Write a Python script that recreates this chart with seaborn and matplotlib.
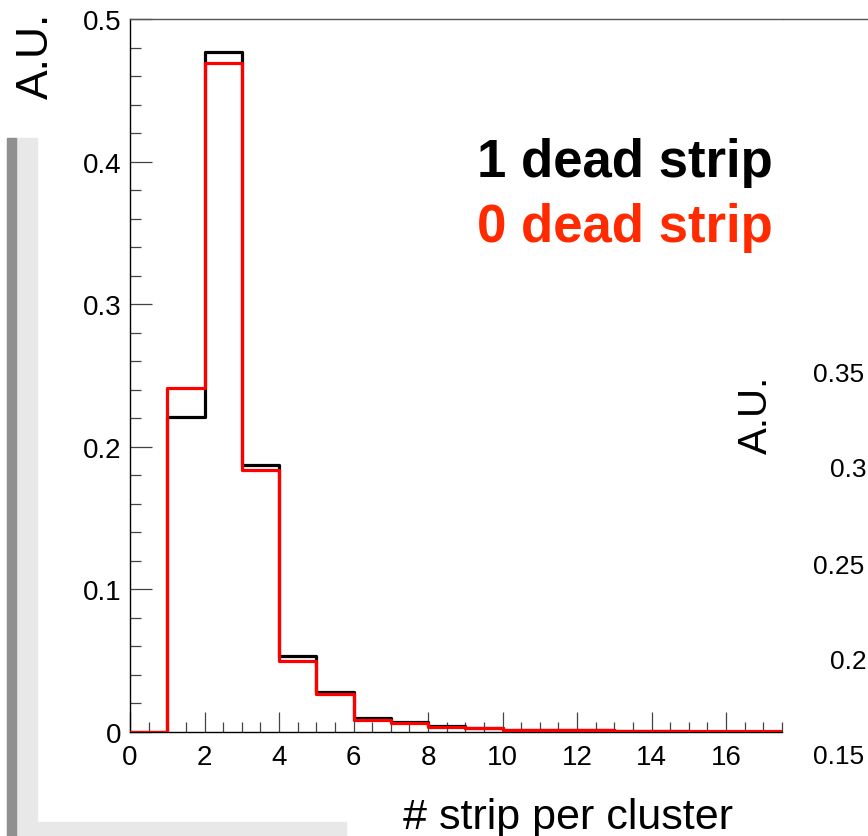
"""
Cluster size distribution: strips per cluster with 1 and 0 dead strips (ROOT-style histogram).
"""

import numpy as np
import pandas as pd
import matplotlib
matplotlib.use("Agg")
import matplotlib.pyplot as plt
from matplotlib.lines import Line2D
from matplotlib.patches import Rectangle
from matplotlib.ticker import MultipleLocator
import seaborn as sns

# Bin edges 0..18, one bin per strip count
bin_edges = list(range(0, 19))
bin_centers = np.arange(0, 18) + 0.5

# Normalised content (A.U.)
one_dead = [0, 0.221, 0.477, 0.187, 0.053, 0.028, 0.0098, 0.0068, 0.0042,
            0.0027, 0.0017, 0.0015, 0.0013, 0.0006, 0.0004, 0.0003, 0.0002, 0.0002]
zero_dead = [0, 0.241, 0.469, 0.184, 0.050, 0.0266, 0.0084, 0.0063, 0.0037,
             0.0025, 0.0016, 0.0014, 0.0012, 0.0005, 0.0004, 0.0004, 0.0004, 0.0004]

labels = ["1 dead strip", "0 dead strip"]
line_colors = ["black", "#ff0000"]
text_colors = ["black", "#ff2a00"]

x_ticks = np.arange(0, 17, 2)
y_ticks = [0, 0.1, 0.2, 0.3, 0.4, 0.5]

# Tick labels of the neighbouring (cut-off) plot on the right
right_ticks = ["0.35", "0.3", "0.25", "0.2", "0.15"]

df = pd.DataFrame({
    "nstrip": np.concatenate([bin_centers, bin_centers]),
    "weight": np.concatenate([one_dead, zero_dead]),
    "config": [labels[0]] * len(bin_centers) + [labels[1]] * len(bin_centers),
})

sns.set_style("white")
plt.rcParams["font.family"] = ["Liberation Sans", "DejaVu Sans"]
plt.rcParams["text.color"] = "black"

W, H = 868, 837
fig = plt.figure(figsize=(W / 100, H / 100), dpi=100)


def fx(px):
    return px / W


def fy(py):
    return 1 - py / H


# Slide decorations behind the plot
fig.patches.append(Rectangle((fx(7), 0), fx(30), fy(139), transform=fig.transFigure,
                             color="#e8e8e8", zorder=0))
fig.patches.append(Rectangle((fx(37), 0), fx(309), 14 / H, transform=fig.transFigure,
                             color="#e8e8e8", zorder=0))
fig.patches.append(Rectangle((fx(7), 0), fx(9), fy(139), transform=fig.transFigure,
                             color="#909090", zorder=0))

ax = fig.add_axes([fx(130), fy(733), fx(782) - fx(130), fy(20) - fy(733)])
ax.set_facecolor("none")

for lab, col, z in zip(labels, line_colors, [3, 4]):
    sub = df[df["config"] == lab]
    sns.histplot(data=sub, x="nstrip", weights="weight",
                 bins=bin_edges, element="step", fill=False, color=col,
                 linewidth=2.3, zorder=z, ax=ax)

ax.set_xlim(0, 17.5)
ax.set_ylim(0, 0.5)
ax.set_xticks(x_ticks)
ax.set_yticks(y_ticks)
ax.set_yticklabels(["0", "0.1", "0.2", "0.3", "0.4", "0.5"])
ax.xaxis.set_minor_locator(MultipleLocator(0.5))
ax.yaxis.set_minor_locator(MultipleLocator(0.02))
ax.tick_params(axis="both", which="both", direction="in", color="#444444",
               width=0.9, labelsize=20, labelcolor="black",
               bottom=True, left=True, top=False, right=False)
ax.tick_params(axis="y", which="major", length=16, pad=6)
ax.tick_params(axis="y", which="minor", length=8)
ax.tick_params(axis="x", which="major", length=14.5, pad=9)
ax.tick_params(axis="x", which="minor", length=7.2)
ax.set_xlabel("")
ax.set_ylabel("")

ax.spines["right"].set_visible(False)
ax.spines["top"].set_color("#555555")
for side in ["left", "bottom"]:
    ax.spines[side].set_color("black")
for sp in ax.spines.values():
    sp.set_linewidth(1.0)

# top frame line continues to the right edge
fig.add_artist(Line2D([fx(782), 1.0], [fy(20), fy(20)], transform=fig.transFigure,
                      color="#555555", linewidth=1.0))

# axis titles
fig.text(fx(733), fy(829), "# strip per cluster", fontsize=31, ha="right", va="baseline")
fig.text(fx(36), fy(56), "A.U.", fontsize=32, rotation=90, ha="center", va="center")

# legend-like text
fig.text(fx(773), fy(177), labels[0], fontsize=38, fontweight="bold",
         color=text_colors[0], ha="right", va="baseline")
fig.text(fx(773), fy(242), labels[1], fontsize=38, fontweight="bold",
         color=text_colors[1], ha="right", va="baseline")

# pieces of the neighbouring plot
fig.text(fx(756), fy(415), "A.U.", fontsize=29, rotation=90, ha="center", va="center")
right_y = [375, 470, 567, 662, 757]
right_x = [813, 830, 813, 830, 813]
for t, yy, xx in zip(right_ticks, right_y, right_x):
    fig.text(fx(xx), fy(yy), t, fontsize=19, ha="left", va="center")

fig.savefig("out.png", dpi=100)
